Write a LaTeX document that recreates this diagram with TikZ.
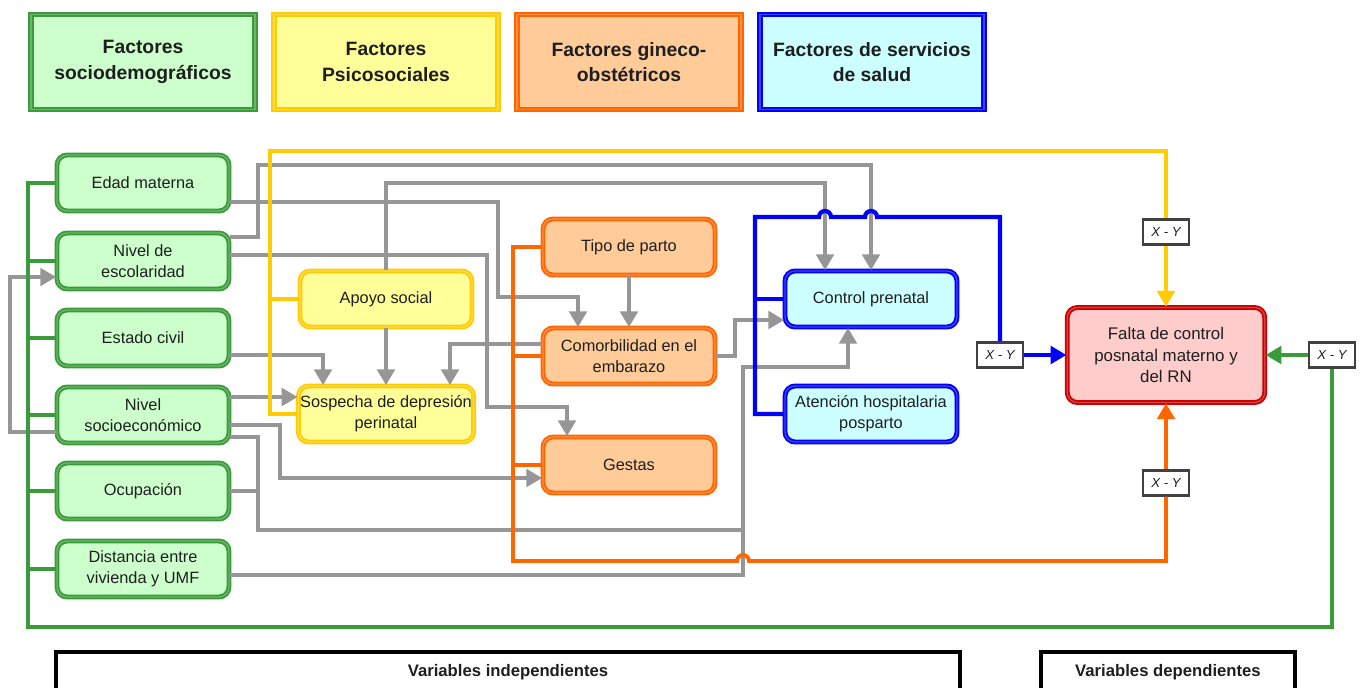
\documentclass[tikz,border=0pt]{standalone}
\usepackage{fontspec}
\setmainfont{Liberation Sans}
\usetikzlibrary{arrows.meta}

\definecolor{verde}{RGB}{58,155,58}
\definecolor{verdeF}{RGB}{204,255,204}
\definecolor{amar}{RGB}{255,204,0}
\definecolor{amarF}{RGB}{255,255,153}
\definecolor{nara}{RGB}{255,102,0}
\definecolor{naraF}{RGB}{255,204,153}
\definecolor{azul}{RGB}{0,0,255}
\definecolor{azulF}{RGB}{204,255,255}
\definecolor{rojo}{RGB}{204,0,0}
\definecolor{rojoF}{RGB}{255,204,204}
\definecolor{gris}{RGB}{150,150,150}
\definecolor{texto}{RGB}{30,30,30}

\tikzset{
  caja/.style={rectangle,rounded corners=0.2cm,line width=1pt,double distance=0.8pt,
    minimum width=3.44cm,minimum height=1.12cm,inner sep=1pt,align=center,
    font=\fontsize{9.3}{12}\selectfont,text=texto},
  fsocio/.style={caja,draw=verde,double=verde!75,fill=verdeF},
  fpsico/.style={caja,draw=amar,double=amar!70,fill=amarF},
  fgineco/.style={caja,draw=nara,double=nara!75,fill=naraF},
  fsalud/.style={caja,draw=azul,double=azul!75,fill=azulF},
  leyenda/.style={rectangle,line width=1.1pt,double distance=0.8pt,minimum width=4.48cm,
    minimum height=1.9cm,align=center,font=\fontsize{11}{14.5}\selectfont\bfseries,text=texto},
  xy/.style={rectangle,draw=black!75,line width=1.3pt,fill=white,minimum width=0.92cm,
    minimum height=0.5cm,inner sep=1pt,font=\fontsize{7.5}{9}\selectfont\itshape,text=texto},
  varbox/.style={rectangle,draw=black,line width=2.2pt,fill=white,minimum height=0.8cm,
    font=\fontsize{9.5}{11}\selectfont\bfseries,text=texto},
  lgris/.style={draw=gris,line width=2pt},
  lverde/.style={draw=verde,line width=2.2pt},
  lamar/.style={draw=amar,line width=2.2pt},
  lnara/.style={draw=nara,line width=2.2pt},
  lazul/.style={draw=azul,line width=2.4pt},
  flecha/.style={-{Triangle[width=10pt,length=9pt]}}
}

\begin{document}
\begin{tikzpicture}[x=0.02cm,y=-0.02cm]
\useasboundingbox (0,0) rectangle (1365,687);

% leyenda
\node[leyenda,draw=verde,double=verde!75,fill=verdeF] (leyA) at (143,62) {Factores\\sociodemográficos};
\node[leyenda,draw=amar,double=amar!70,fill=amarF] (leyB) at (386,62) {Factores\\Psicosociales};
\node[leyenda,draw=nara,double=nara!75,fill=naraF] (leyC) at (629,62) {Factores gineco-\\obstétricos};
\node[leyenda,draw=azul,double=azul!75,fill=azulF] (leyD) at (872,62) {Factores de servicios\\de salud};

% factores
\node[fsocio] (edad) at (143,183) {Edad materna};
\node[fsocio] (escol) at (143,261) {Nivel de\\escolaridad};
\node[fsocio] (civil) at (143,338) {Estado civil};
\node[fsocio] (socio) at (143,415) {Nivel\\socioeconómico};
\node[fsocio] (ocup) at (143,491) {Ocupación};
\node[fsocio] (dist) at (143,569) {Distancia entre\\vivienda y UMF};

\node[fpsico] (apoyo) at (386,299) {Apoyo social};
\node[fpsico] (sosp) at (386,414) {Sospecha de depresión\\perinatal};

\node[fgineco] (tipo) at (629,247) {Tipo de parto};
\node[fgineco] (comorb) at (629,356) {Comorbilidad en el\\embarazo};
\node[fgineco] (gestas) at (629,465) {Gestas};

\node[fsalud] (control) at (871,299) {Control prenatal};
\node[fsalud] (atencion) at (871,414) {Atención hospitalaria\\posparto};

\node[caja,draw=rojo,double=rojo!75,fill=rojoF,minimum width=3.95cm,minimum height=1.9cm,
  font=\fontsize{9.6}{12.5}\selectfont] (falta) at (1166,355) {Falta de control\\posnatal materno y\\del RN};

\node[xy] (xyY) at (1166,232) {X - Y};
\node[xy] (xyO) at (1166,483) {X - Y};
\node[xy] (xyB) at (1000,355) {X - Y};
\node[xy] (xyG) at (1332,355) {X - Y};

% relaciones entre variables
\draw[lgris,flecha] (escol.east |- 0,237) -- (258,237) -- (258,165) -- (871,165) -- (control.north);
\draw[lgris,flecha] (edad.east |- 0,202) -- (498,202) -- (498,297) -- (578,297) -- (comorb.north -| 578,0);
\draw[lgris,flecha] (apoyo.north) -- (386,183) -- (825,183) -- (control.north -| 825,0);
\draw[lgris,flecha] (escol.east |- 0,255) -- (487,255) -- (487,407) -- (567,407) -- (gestas.north -| 567,0);
\draw[lgris,flecha] (civil.east |- 0,355) -- (323,355) -- (sosp.north -| 323,0);
\draw[lgris,flecha] (apoyo.south) -- (sosp.north);
\draw[lgris,flecha] (comorb.west |- 0,344) -- (450,344) -- (sosp.north -| 450,0);
\draw[lgris,flecha] (socio.east |- 0,397) -- (sosp.west |- 0,397);
\draw[lgris,flecha] (socio.east |- 0,425) -- (280,425) -- (280,478) -- (gestas.west |- 0,478);
\draw[lgris] (socio.east |- 0,437) -- (258,437) -- (258,530) -- (743,530);
\draw[lgris] (ocup.east) -- (258,491);
\draw[lgris,flecha] (dist.east |- 0,575) -- (743,575) -- (743,367) -- (848,367) -- (control.south -| 848,0);
\draw[lgris,flecha] (tipo.south) -- (comorb.north);
\draw[lgris,flecha] (comorb.east) -- (735,356) -- (735,320) -- (control.west |- 0,320);
\draw[lgris,flecha] (socio.west |- 0,432) -- (10,432) -- (10,277) -- (escol.west |- 0,277);

% grupo sociodemografico
\draw[lverde] (edad.west) -- (28,183) -- (28,627) -- (1332,627) -- (xyG.south);
\foreach \n in {escol,civil,socio,ocup,dist}
  \draw[lverde] (\n.west) -- (\n.west -| 28,0);
\draw[lverde,flecha] (xyG.west) -- (falta.east);

% grupo psicosocial
\draw[lamar] (sosp.west) -- (270,414) -- (270,151) -- (1166,151) -- (xyY.north);
\draw[lamar] (apoyo.west) -- (270,299);
\draw[lamar,flecha] (xyY.south) -- (falta.north);

% grupo gineco-obstetrico
\draw[lnara] (tipo.west) -- (513,247) -- (513,561) -- (737,561)
  arc[start angle=180,end angle=0,radius=0.12cm] -- (1166,561) -- (xyO.south);
\draw[lnara] (comorb.west) -- (513,356);
\draw[lnara] (gestas.west) -- (513,465);
\draw[lnara,flecha] (xyO.north) -- (falta.south);

% servicios de salud
\draw[lazul] (atencion.west) -- (755,414) -- (755,217) -- (819,217)
  arc[start angle=180,end angle=0,radius=0.12cm] -- (865,217)
  arc[start angle=180,end angle=0,radius=0.12cm] -- (1000,217) -- (xyB.north);
\draw[lazul] (control.west) -- (755,299);
\draw[lazul,flecha] (xyB.east) -- (falta.west);

% tipo de variable
\node[varbox,minimum width=18.1cm] (vind) at (508,672) {Variables independientes};
\node[varbox,minimum width=5.08cm] (vdep) at (1168,672) {Variables dependientes};

\end{tikzpicture}
\end{document}
